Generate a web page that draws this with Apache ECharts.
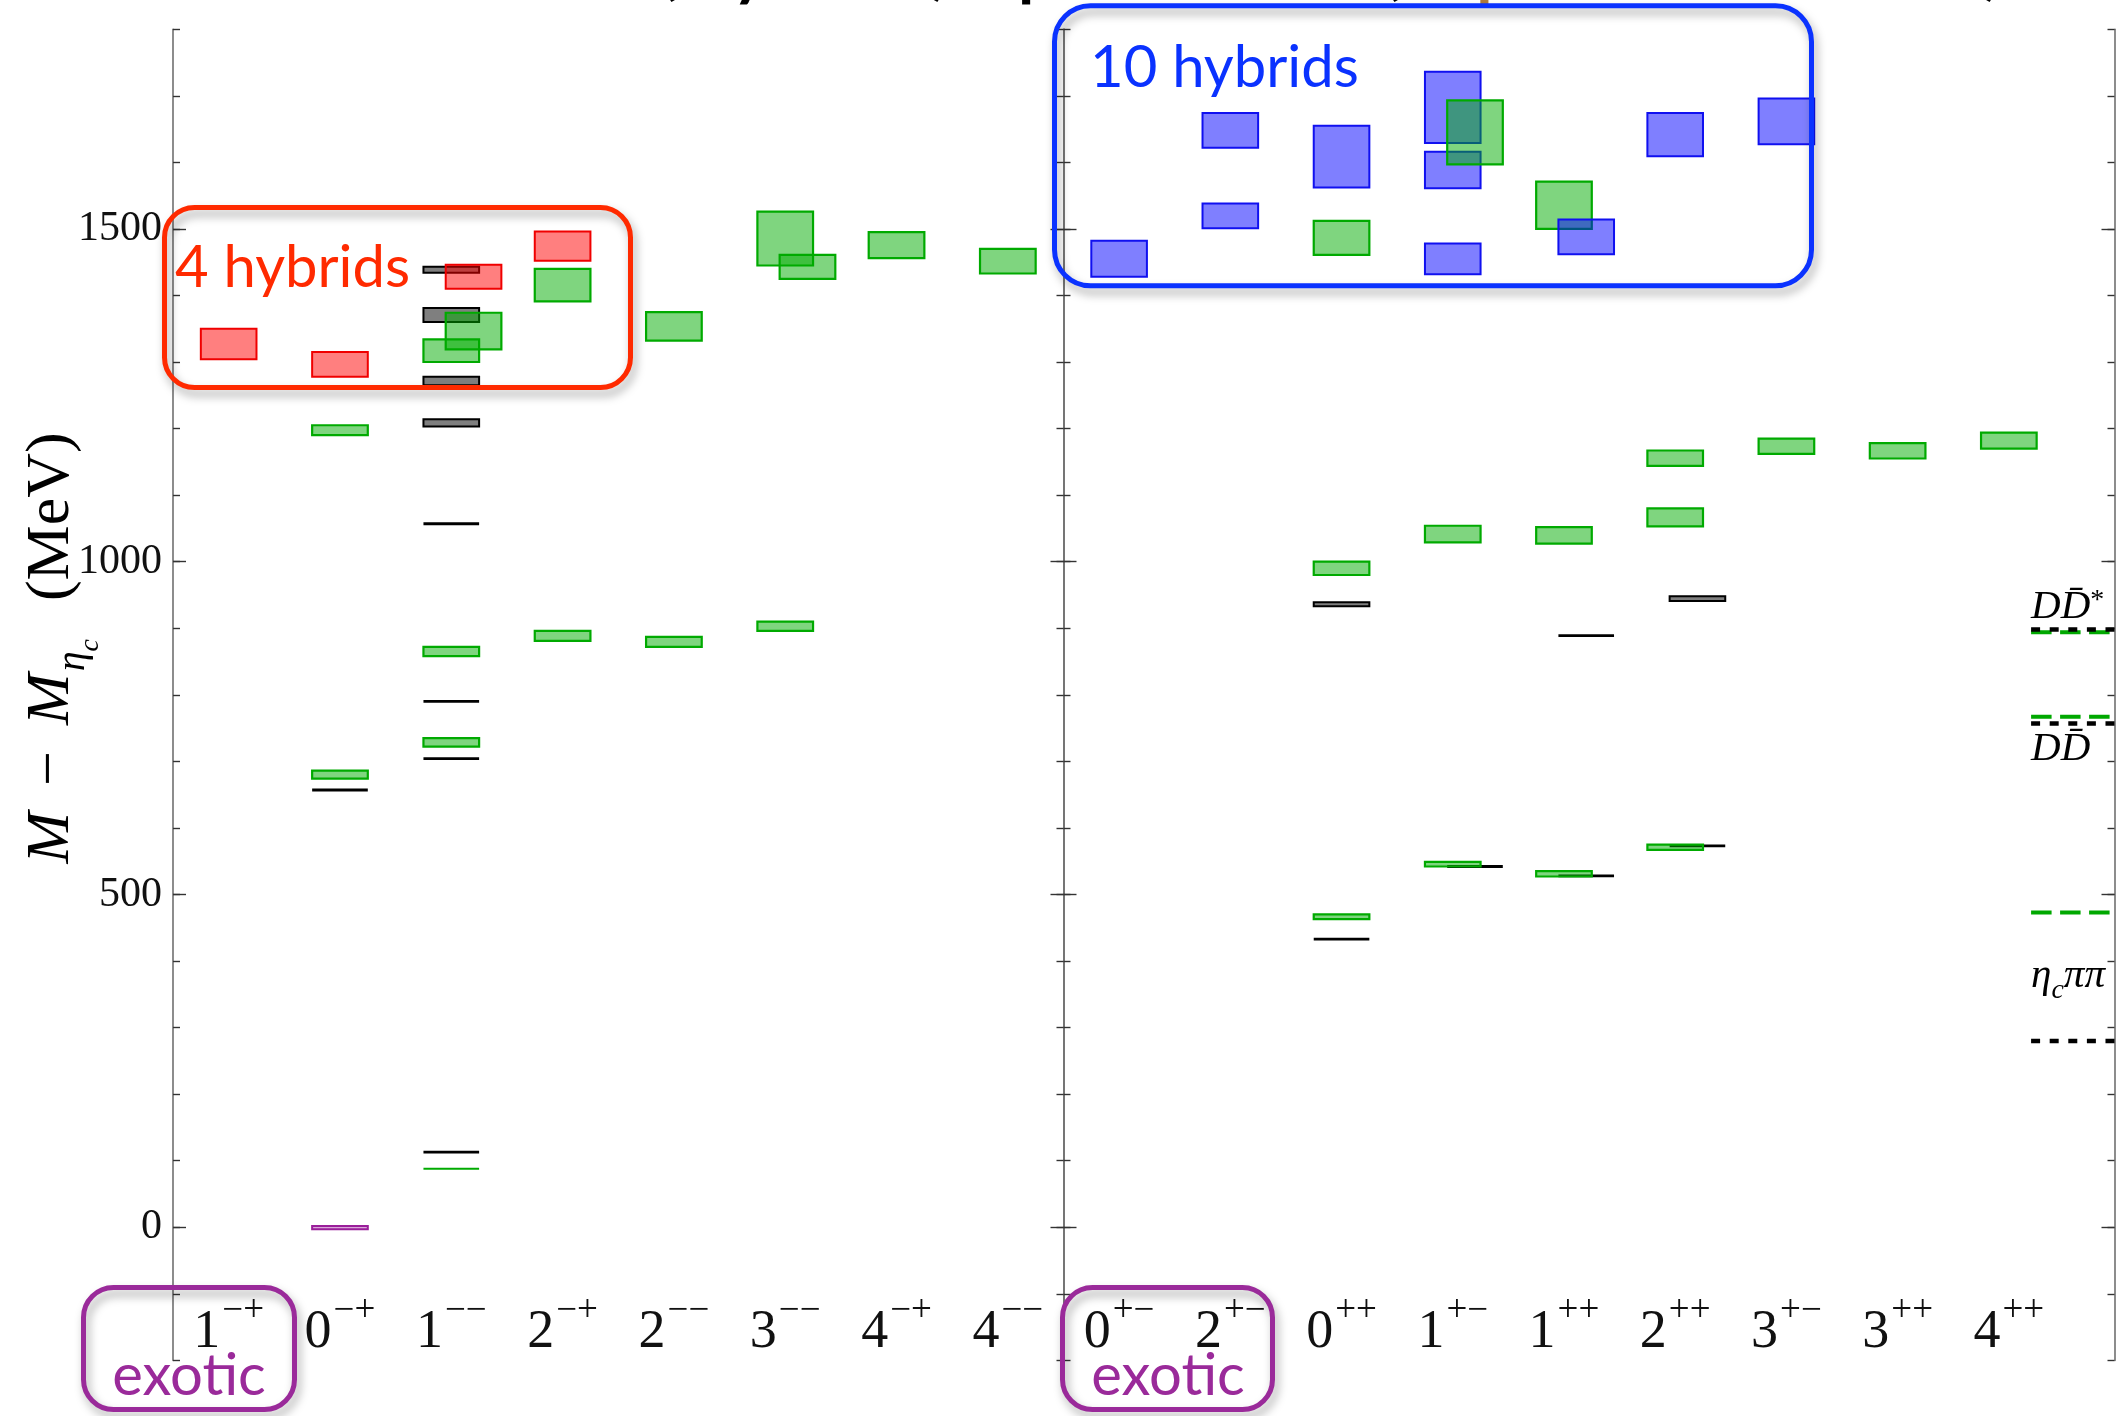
<!DOCTYPE html>
<html><head><meta charset="utf-8">
<script src="https://cdn.jsdelivr.net/npm/echarts@6/dist/echarts.min.js"></script>
<style>html,body{margin:0;padding:0;background:#fff}#c{width:2121px;height:1416px}</style>
</head><body><div id="c"></div>
<script>
// ---------------- data ----------------
const leftCats  = ['1−+','0−+','1−−','2−+','2−−','3−−','4−+','4−−'];
const rightCats = ['0+−','2+−','0++','1+−','1++','2++','3+−','3++','4++'];
const yTickLabels = [0, 500, 1000, 1500];

// [category index, low (MeV), high (MeV), shifted flag]; low == high -> a single level line
const leftBlack = [
  [1, 657, 657, 0], [2, 1434, 1443, 0], [2, 1360, 1381, 0], [2, 1265, 1278, 0],
  [2, 1203, 1214, 0], [2, 1057, 1057, 0], [2, 790, 790, 0], [2, 704, 704, 0], [2, 113, 113, 0]
];
const leftPurple = [[1, -3, 2, 0]];
const leftGreen = [
  [1, 1190, 1205, 0], [1, 674, 686, 0],
  [2, 1300, 1334, 0], [2, 1319, 1374, 1], [2, 858, 872, 0], [2, 722, 735, 0], [2, 88, 88, 0],
  [3, 1391, 1440, 0], [3, 881, 896, 0],
  [4, 1332, 1375, 0], [4, 872, 887, 0],
  [5, 1445, 1526, 0], [5, 1425, 1461, 1], [5, 896, 910, 0],
  [6, 1456, 1495, 0],
  [7, 1433, 1470, 0]
];
const leftRed = [[0, 1304, 1350, 0], [1, 1278, 1315, 0], [2, 1410, 1446, 1], [3, 1452, 1496, 0]];

const rightBlack = [
  [2, 933, 939, 0], [2, 433, 433, 0], [3, 542, 542, 1], [4, 889, 889, 1],
  [4, 528, 528, 1], [5, 941, 948, 1], [5, 573, 573, 1]
];
const rightGreen = [
  [2, 1461, 1512, 0], [2, 980, 1000, 0], [2, 463, 470, 0],
  [3, 1597, 1693, 1], [3, 1029, 1054, 0], [3, 542, 549, 0],
  [4, 1500, 1571, 0], [4, 1027, 1052, 0], [4, 527, 535, 0],
  [5, 1144, 1167, 0], [5, 1053, 1080, 0], [5, 567, 575, 0],
  [6, 1162, 1185, 0], [7, 1155, 1178, 0], [8, 1170, 1194, 0]
];
const rightBlue = [
  [0, 1428, 1482, 0], [1, 1622, 1674, 0], [1, 1501, 1538, 0], [2, 1562, 1655, 0],
  [3, 1629, 1736, 0], [3, 1561, 1616, 0], [3, 1432, 1478, 0], [4, 1462, 1514, 1],
  [5, 1609, 1674, 0], [6, 1627, 1696, 0]
];

const thresholdNames    = ['DD̄*', 'DD̄', 'ηcππ'];
const thresholdLattice  = [894, 767, 473];
const thresholdPhysical = [898, 757, 280];

// ---------------- styling / layout ----------------
const SERIF = "'Liberation Serif','DejaVu Serif',serif";
const SANS = "Lato,'Open Sans',sans-serif";
const KIND = [
  {fill: 'rgba(0,0,0,0.5)',    stroke: '#000000', lw: 3},   // black
  {fill: 'rgba(175,60,175,0.45)', stroke: '#9a1f9a', lw: 2}, // purple
  {fill: 'rgba(0,172,0,0.5)',  stroke: '#00aa00', lw: 2.2}, // green
  {fill: 'rgba(255,0,0,0.5)',  stroke: '#f00000', lw: 2},   // red
  {fill: 'rgba(0,0,255,0.5)',  stroke: '#1010f0', lw: 2}    // blue
];
const HALF = 0.25, SHIFT = 0.2;

function buildItems(groups) {
  const out = [];
  groups.filter(g => g[1] <= 1).forEach(([arr, k]) => arr.forEach(d => out.push(d.concat(k))));
  groups.filter(g => g[1] > 1).forEach(([arr, k]) => arr.filter(d => !d[3]).forEach(d => out.push(d.concat(k))));
  groups.filter(g => g[1] > 1).forEach(([arr, k]) => arr.filter(d => d[3]).forEach(d => out.push(d.concat(k))));
  return out;
}

function renderLevel(params, api) {
  const cat = api.value(0), lo = api.value(1), hi = api.value(2), sh = api.value(3), k = api.value(4);
  const s = KIND[k];
  const cx = cat + 0.5 + (sh ? SHIFT : 0);
  const a = api.coord([cx - HALF, hi]);
  const b = api.coord([cx + HALF, lo]);
  if (hi === lo) {
    return {type: 'line', shape: {x1: a[0], y1: a[1], x2: b[0], y2: a[1]},
      style: {stroke: s.stroke, lineWidth: k === 0 ? 2.8 : 2}};
  }
  return {type: 'rect', shape: {x: a[0], y: a[1], width: b[0] - a[0], height: b[1] - a[1]},
    style: {fill: s.fill, stroke: s.stroke, lineWidth: s.lw > 2.5 ? 2 : s.lw}};
}

const TH_X0 = 8.70, TH_X1 = 9.45;
const thRich = {
  i: {fontFamily: SERIF, fontStyle: 'italic', fontSize: 41, lineHeight: 42, verticalAlign: 'top', color: '#111'},
  sup: {fontFamily: SERIF, fontSize: 28, lineHeight: 28, verticalAlign: 'top', color: '#111'},
  sub: {fontFamily: SERIF, fontStyle: 'italic', fontSize: 28, lineHeight: 28, padding: [21, 0, 0, 0], verticalAlign: 'top', color: '#111'}
};
function thLabel(name) {
  if (name.indexOf('η') === 0) return '{i|η}{sub|c}{i|ππ}';
  const star = name.endsWith('*');
  return '{i|' + name.replace('*', '') + '}' + (star ? '{sup|*}' : '');
}
function renderThreshold(params, api) {
  const i = api.value(0), lat = api.value(1), phys = api.value(2);
  const g1 = api.coord([TH_X0, lat]), g2 = api.coord([TH_X1, lat]);
  const b1 = api.coord([TH_X0, phys]), b2 = api.coord([TH_X1, phys]);
  let ty, va;
  if (i === 0) { ty = Math.min(g1[1], b1[1]) - 1; va = 'bottom'; }
  else if (i === 1) { ty = Math.max(g1[1], b1[1]) + 5; va = 'top'; }
  else { ty = (g1[1] + b1[1]) / 2; va = 'middle'; }
  return {type: 'group', children: [
    {type: 'line', shape: {x1: g1[0], y1: g1[1], x2: g2[0], y2: g2[1]},
      style: {stroke: '#00a800', lineWidth: 4, lineDash: [20.5, 8.5]}},
    {type: 'line', shape: {x1: b1[0], y1: b1[1], x2: b2[0], y2: b2[1]},
      style: {stroke: '#000', lineWidth: 4.5, lineDash: [9, 9.6]}},
    {type: 'text', x: g1[0], y: ty,
      style: {text: thLabel(thresholdNames[i]), rich: thRich, textAlign: 'left', textVerticalAlign: va}}
  ]};
}

function catFmt(list) {
  return v => { const s = list[Math.round(v - 0.5)] || ''; return '{n|' + s[0] + '}{s|' + s.slice(1) + '}'; };
}
const catRich = {
  n: {fontFamily: SERIF, fontSize: 54, lineHeight: 80, verticalAlign: 'middle', color: '#111'},
  s: {fontFamily: SERIF, fontSize: 37, lineHeight: 54, verticalAlign: 'top', padding: [0, 0, 0, 2], color: '#111'}
};

function yAxesFor(gridIndex, labels) {
  const base = {type: 'value', gridIndex, min: -200, max: 1800, interval: 100, splitLine: {show: false}};
  const tickStyle = {color: '#333', width: 1.4};
  const lineStyle = {color: '#707070', width: 1.6};
  const out = [];
  ['left', 'right'].forEach(pos => {
    out.push(Object.assign({}, base, {
      position: pos,
      axisLine: {show: true, onZero: false, lineStyle},
      axisTick: {show: true, inside: true, length: 7, lineStyle: tickStyle},
      axisLabel: (labels && pos === 'left') ?
        {show: true, customValues: yTickLabels, formatter: v => String(v), margin: 11,
         fontFamily: SERIF, fontSize: 42, color: '#111'} :
        {show: false}
    }));
    out.push(Object.assign({}, base, {
      position: pos,
      axisLine: {show: false, onZero: false},
      axisTick: {show: true, inside: true, length: 13, customValues: yTickLabels, lineStyle: tickStyle},
      axisLabel: {show: false}
    }));
  });
  return out;
}

const leftValues = leftCats.map((c, i) => i + 0.5);
const rightValues = rightCats.map((c, i) => i + 0.5);

const xAxisCommon = {
  type: 'value', position: 'bottom', splitLine: {show: false},
  axisLine: {show: false, onZero: false}, axisTick: {show: false}
};

const roundBox = (x, y, w, h, r, color) => ({
  type: 'rect', z: 100, shape: {x, y, width: w, height: h, r},
  style: {fill: 'none', stroke: color, lineWidth: 5,
    shadowBlur: 10, shadowColor: 'rgba(0,0,0,0.35)', shadowOffsetX: 3, shadowOffsetY: 6}
});

const yNameRich = {
  m: {fontFamily: SERIF, fontStyle: 'italic', fontSize: 62, lineHeight: 62, verticalAlign: 'top', color: '#111'},
  o: {fontFamily: SERIF, fontSize: 62, lineHeight: 62, verticalAlign: 'top', padding: [0, 26, 0, 26], color: '#111'},
  s: {fontFamily: SERIF, fontStyle: 'italic', fontSize: 40, lineHeight: 40, verticalAlign: 'top', padding: [32, 0, 0, 2], color: '#111'},
  ss: {fontFamily: SERIF, fontStyle: 'italic', fontSize: 28, lineHeight: 28, verticalAlign: 'top', padding: [56, 0, 0, 0], color: '#111'},
  u: {fontFamily: SERIF, fontSize: 62, lineHeight: 62, verticalAlign: 'top', padding: [0, 0, 0, 38], color: '#111'}
};

const TITLE_Y = -40;
const chart = echarts.init(document.getElementById('c'), null, {renderer: 'canvas', width: 2121, height: 1416});
chart.setOption({
  animation: false,
  backgroundColor: '#ffffff',
  grid: [
    {left: 173, top: 29.2, width: 890.5, height: 1331.2},
    {left: 1063.5, top: 29.2, width: 1051, height: 1331.2}
  ],
  xAxis: [
    Object.assign({}, xAxisCommon, {gridIndex: 0, min: 0, max: 8,
      axisLabel: {customValues: leftValues, formatter: catFmt(leftCats), rich: catRich, margin: -68}}),
    Object.assign({}, xAxisCommon, {gridIndex: 1, min: 0, max: 9.45,
      axisLabel: {customValues: rightValues, formatter: catFmt(rightCats), rich: catRich, margin: -68}})
  ],
  yAxis: yAxesFor(0, true).concat(yAxesFor(1, false)),
  series: [
    {type: 'custom', xAxisIndex: 0, yAxisIndex: 0, renderItem: renderLevel, encode: {x: 0, y: [1, 2]},
      data: buildItems([[leftBlack, 0], [leftPurple, 1], [leftGreen, 2], [leftRed, 3]])},
    {type: 'custom', xAxisIndex: 1, yAxisIndex: 4, renderItem: renderLevel, encode: {x: 0, y: [1, 2]},
      data: buildItems([[rightBlack, 0], [rightGreen, 2], [rightBlue, 4]])},
    {type: 'custom', xAxisIndex: 1, yAxisIndex: 4, renderItem: renderThreshold, encode: {x: 0, y: [1, 2]},
      data: thresholdNames.map((n, i) => [i, thresholdLattice[i], thresholdPhysical[i]])}
  ],
  graphic: [
    // cropped slide title (only the lowest pixels are visible)
    {type: 'text', x: 655, y: TITLE_Y, style: {text: '({b|hybrid}) spectrum', font: '90px ' + SANS, fill: '#000', textVerticalAlign: 'middle',
      rich: {b: {fontFamily: SANS, fontSize: 90, color: '#0a32ff'}}}},
    {type: 'text', x: 1378, y: TITLE_Y, style: {text: '(', font: '90px ' + SANS, fill: '#000', textVerticalAlign: 'middle'}},
    {type: 'text', x: 1474, y: TITLE_Y, style: {text: 'p', font: '90px ' + SANS, fill: '#b07a3c', textVerticalAlign: 'middle'}},
    {type: 'text', x: 1982, y: TITLE_Y, style: {text: ')', font: '90px ' + SANS, fill: '#000', textVerticalAlign: 'middle'}},
    // annotation boxes
    roundBox(164.5, 207.5, 466, 180, 30, '#ff2a00'),
    {type: 'text', z: 100, x: 175, y: 268, style: {text: '4 hybrids', font: '58px ' + SANS, fill: '#ff2a00', textVerticalAlign: 'middle'}},
    roundBox(1054.5, 5.8, 757, 280, 36, '#0a32ff'),
    {type: 'text', z: 100, x: 1090, y: 68, style: {text: '10 hybrids', font: '58px ' + SANS, fill: '#0a32ff', textVerticalAlign: 'middle'}},
    roundBox(83.5, 1287.5, 211, 122, 30, '#9a2a9a'),
    {type: 'text', z: 100, x: 189, y: 1376, style: {text: 'exotic', font: '58px ' + SANS, fill: '#9a2a9a', textAlign: 'center', textVerticalAlign: 'middle'}},
    roundBox(1062.5, 1287.5, 210, 122, 30, '#9a2a9a'),
    {type: 'text', z: 100, x: 1168, y: 1376, style: {text: 'exotic', font: '58px ' + SANS, fill: '#9a2a9a', textAlign: 'center', textVerticalAlign: 'middle'}},
    // y-axis title
    {type: 'text', x: 52, y: 648, rotation: Math.PI / 2,
      style: {text: '{m|M}{o|−}{m|M}{s|η}{ss|c}{u|(MeV)}', rich: yNameRich, textAlign: 'center', textVerticalAlign: 'middle'}}
  ]
});
</script>
</body></html>
